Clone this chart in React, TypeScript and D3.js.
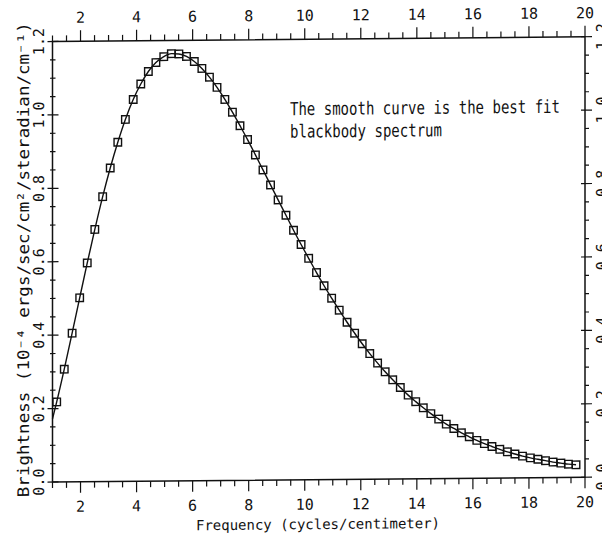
import React, { useRef, useEffect } from 'react';
import * as d3 from 'd3';

// measured points (cycles/cm, 1e-4 ergs/sec/cm2/sr/cm-1)
const frequency = [
  1.15, 1.42, 1.70, 1.97, 2.24, 2.51, 2.79, 3.06, 3.33, 3.60,
  3.88, 4.15, 4.42, 4.69, 4.97, 5.24, 5.51, 5.78, 6.06, 6.33,
  6.60, 6.87, 7.15, 7.42, 7.69, 7.96, 8.24, 8.51, 8.78, 9.05,
  9.33, 9.60, 9.87, 10.14, 10.42, 10.69, 10.96, 11.23, 11.51, 11.78,
  12.05, 12.32, 12.60, 12.87, 13.14, 13.41, 13.69, 13.96, 14.23, 14.50,
  14.78, 15.05, 15.32, 15.59, 15.87, 16.14, 16.41, 16.68, 16.96, 17.23,
  17.50, 17.77, 18.05, 18.32, 18.59, 18.86, 19.14, 19.41, 19.68,
];

const brightness = [
  0.218, 0.307, 0.405, 0.501, 0.596, 0.687, 0.776, 0.854, 0.924, 0.986,
  1.040, 1.082, 1.116, 1.140, 1.156, 1.164, 1.163, 1.156, 1.142, 1.123,
  1.099, 1.071, 1.038, 1.003, 0.966, 0.928, 0.886, 0.845, 0.804, 0.763,
  0.721, 0.680, 0.641, 0.603, 0.564, 0.528, 0.494, 0.461, 0.428, 0.398,
  0.369, 0.342, 0.316, 0.292, 0.270, 0.249, 0.228, 0.210, 0.193, 0.177,
  0.162, 0.148, 0.136, 0.124, 0.113, 0.103, 0.094, 0.086, 0.078, 0.071,
  0.065, 0.059, 0.054, 0.050, 0.046, 0.042, 0.039, 0.036, 0.034,
];

// where the fitted curve meets the left frame
const fitEdgeFrequency = 1.0;
const fitEdgeBrightness = 0.172;

const xLabels = [2, 4, 6, 8, 10, 12, 14, 16, 18, 20];
const yLabels = [0, 0.2, 0.4, 0.6, 0.8, 1.0, 1.2];

const yTitle = 'Brightness (10\u207B\u2074 ergs/sec/cm\u00B2/steradian/cm\u207B\u00B9)';
const xTitle = 'Frequency (cycles/centimeter)';
const note = ['The smooth curve is the best fit', 'blackbody spectrum'];

const W = 602;
const H = 535;
const font = '"DejaVu Sans Mono", monospace';

export default function App() {
  const ref = useRef<SVGSVGElement | null>(null);

  useEffect(() => {
    if (!ref.current) return;
    const root = d3.select(ref.current);
    root.selectAll('*').remove();

    const left = 52.5, right = 585, top = 41.5, bottom = 482;
    const x = d3.scaleLinear().domain([1, 20]).range([left, right]);
    const y = d3.scaleLinear().domain([0, 1.2]).range([bottom, top]);

    // the scanned page is a little tilted
    const k = -0.009;
    const svg = root.append('g')
      .attr('transform', `matrix(1, ${k}, 0, 1, 0, ${-k * 53})`);

    // frame
    svg.append('rect')
      .attr('x', left).attr('y', top)
      .attr('width', right - left).attr('height', bottom - top)
      .attr('fill', 'none').attr('stroke', '#111').attr('stroke-width', 1.5);

    const xMinor = d3.range(1, 20.001, 0.5);
    const isXMajor = (v: number) => Math.abs(v % 2) < 1e-6;
    const yMinor = d3.range(0, 1.2001, 0.05);
    const isYMajor = (v: number) => Math.abs(Math.round(v * 5) - v * 5) < 1e-6;

    const ticks = svg.append('g').attr('stroke', '#111').attr('stroke-width', 1.2);

    // bottom and top
    xMinor.forEach(v => {
      const len = isXMajor(v) ? 11 : 6;
      ticks.append('line')
        .attr('x1', x(v)).attr('x2', x(v))
        .attr('y1', bottom).attr('y2', bottom + len);
      ticks.append('line')
        .attr('x1', x(v)).attr('x2', x(v))
        .attr('y1', top).attr('y2', top - len);
    });

    // left and right
    yMinor.forEach(v => {
      const major = isYMajor(v);
      ticks.append('line')
        .attr('x1', left - (major ? 5 : 2.5)).attr('x2', left + (major ? 6 : 3))
        .attr('y1', y(v)).attr('y2', y(v));
      ticks.append('line')
        .attr('x1', right - (major ? 4 : 0)).attr('x2', right + (major ? 7 : 4))
        .attr('y1', y(v)).attr('y2', y(v));
    });

    const labels = svg.append('g')
      .attr('font-family', font).attr('font-size', 15).attr('fill', '#111');

    xLabels.forEach(v => {
      labels.append('text')
        .attr('x', x(v)).attr('y', bottom + 30)
        .attr('text-anchor', 'middle').text(String(v));
      labels.append('text')
        .attr('x', x(v)).attr('y', top - 18.5)
        .attr('text-anchor', 'middle').text(String(v));
    });

    const fmt = d3.format('.1f');
    yLabels.forEach(v => {
      labels.append('text')
        .attr('transform', `translate(44, ${y(v)}) rotate(-90)`)
        .attr('text-anchor', 'middle').text(fmt(v));
      // right-hand labels run off the edge of the page, as in the scan
      labels.append('text')
        .attr('transform', `translate(607, ${y(v)}) rotate(-90)`)
        .attr('text-anchor', 'middle').text(fmt(v));
    });

    // titles
    svg.append('text')
      .attr('transform', 'translate(29, 259.5) rotate(-90)')
      .attr('text-anchor', 'middle')
      .attr('font-family', font).attr('font-size', 16).attr('fill', '#111')
      .attr('textLength', 475).attr('lengthAdjust', 'spacingAndGlyphs')
      .text(yTitle);

    svg.append('text')
      .attr('x', 318).attr('y', 531.5)
      .attr('text-anchor', 'middle')
      .attr('font-family', font).attr('font-size', 14).attr('fill', '#111')
      .attr('textLength', 244).attr('lengthAdjust', 'spacingAndGlyphs')
      .text(xTitle);

    const noteG = svg.append('g')
      .attr('font-family', font).attr('font-size', 18).attr('fill', '#111');
    noteG.append('text')
      .attr('x', 290).attr('y', 117.3)
      .attr('textLength', 270).attr('lengthAdjust', 'spacingAndGlyphs')
      .text(note[0]);
    noteG.append('text')
      .attr('x', 290).attr('y', 139.8)
      .attr('textLength', 152).attr('lengthAdjust', 'spacingAndGlyphs')
      .text(note[1]);

    // fitted curve
    const pts: [number, number][] = [[fitEdgeFrequency, fitEdgeBrightness]];
    frequency.forEach((f, i) => pts.push([f, brightness[i]]));
    const line = d3.line<[number, number]>()
      .x(d => x(d[0]))
      .y(d => y(d[1]))
      .curve(d3.curveMonotoneX);
    svg.append('path')
      .datum(pts)
      .attr('fill', 'none')
      .attr('stroke', '#111')
      .attr('stroke-width', 1.4)
      .attr('d', line);

    // data squares
    const s = 7.5;
    svg.append('g')
      .selectAll('rect')
      .data(frequency)
      .join('rect')
      .attr('x', (f) => x(f) - s / 2)
      .attr('y', (_, i) => y(brightness[i]) - s / 2)
      .attr('width', s).attr('height', s)
      .attr('fill', 'none')
      .attr('stroke', '#111')
      .attr('stroke-width', 1.4);
  }, []);

  return (
    <svg ref={ref} width={W} height={H}
      style={{ position: 'absolute', left: 0, top: 0, background: '#fff' }} />
  );
}
